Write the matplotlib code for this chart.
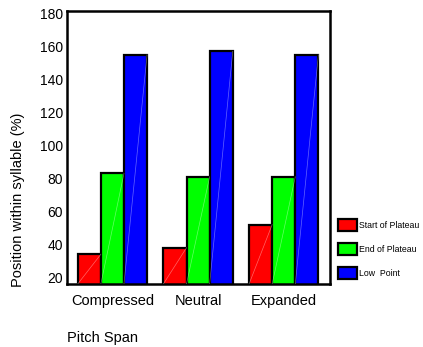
import numpy as np
import matplotlib
matplotlib.use("Agg")
import matplotlib.pyplot as plt

plt.rcParams["font.family"] = ["Liberation Sans", "DejaVu Sans"]

SPANS = ["Compressed", "Neutral", "Expanded"]
START = [34, 38, 52]
END = [83, 81, 81]
LOW = [155, 157, 155]
SERIES = ["Start of Plateau", "End of Plateau", "Low  Point"]
COLORS = ["#ff0000", "#00ff00", "#0000ff"]
YTICKS = [20, 40, 60, 80, 100, 120, 140, 160, 180]

W, H = 423, 347
fig = plt.figure(figsize=(W / 100, H / 100), dpi=100)
ax = fig.add_axes([67 / W, (H - 284) / H, (330 - 67) / W, (284 - 11) / H])

x = np.arange(len(SPANS))
bw = 0.27
for i, (vals, col, lab) in enumerate(zip([START, END, LOW], COLORS, SERIES)):
    xs = x + (i - 1) * bw
    ax.bar(xs, vals, width=bw, bottom=0, color=col, edgecolor="black",
           linewidth=1.6, label=lab, zorder=2)
    # faint diagonal streak across each bar
    for xi, v in zip(xs, vals):
        ax.plot([xi - bw / 2, xi + bw / 2], [16, v], color="white",
                lw=0.5, alpha=0.4, zorder=3)

ax.set_xlim(-0.53, 2.54)
ax.set_ylim(16, 181.5)
ax.set_yticks(YTICKS)
ax.set_xticks(x)
ax.set_xticklabels(SPANS, fontsize=10.5)
ax.tick_params(axis="y", length=0, labelsize=10, pad=3)
ax.tick_params(axis="x", length=0, pad=7)
for s in ax.spines.values():
    s.set_linewidth(1.8)

fig.text(18 / W, 1 - 200 / H, "Position within syllable (%)", rotation=90,
         ha="center", va="center", fontsize=10.5)
fig.text(67 / W, 1 - 338 / H, "Pitch Span", ha="left", va="center", fontsize=10.5)

leg = ax.legend(loc="center left", bbox_to_anchor=(338 / W, 1 - 249 / H),
                bbox_transform=fig.transFigure, frameon=False, fontsize=6.3,
                handlelength=2.2, handleheight=1.6, labelspacing=1.45,
                handletextpad=0.15, borderaxespad=0, borderpad=0)
for p in leg.get_patches():
    p.set_linewidth(1.6)

fig.savefig("out.png", dpi=100)
